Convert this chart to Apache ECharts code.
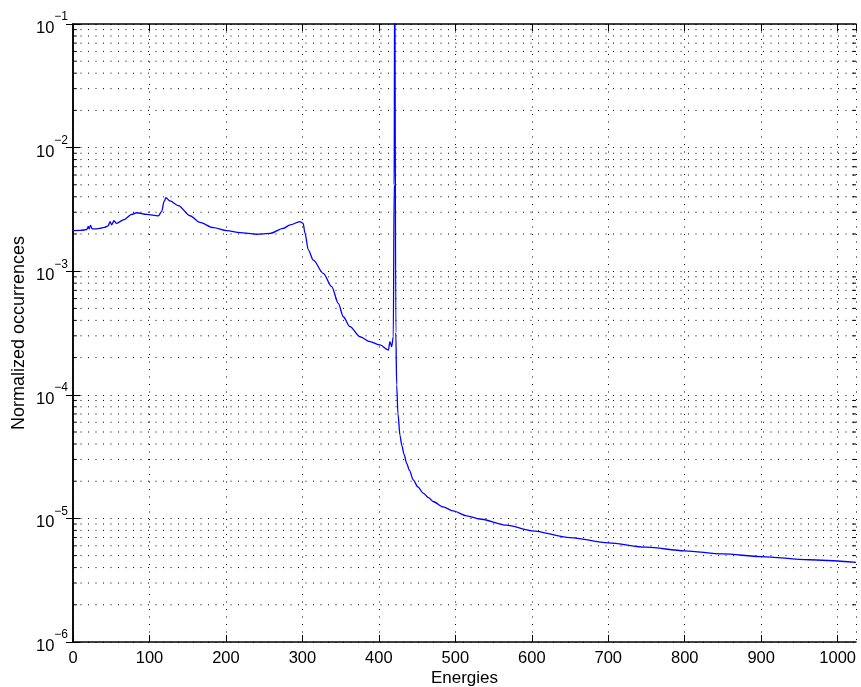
<!DOCTYPE html>
<html>
<head>
<meta charset="utf-8">
<script src="https://cdn.jsdelivr.net/npm/echarts@6/dist/echarts.min.js"></script>
<style>
html, body { margin: 0; padding: 0; background: #fff; }
#chart { width: 861px; height: 687px; }
</style>
</head>
<body>
<div id="chart"></div>
<script>
var energies = [0, 10, 18, 20, 21, 23, 25, 30, 35, 41, 46, 48.4, 50.6, 53.6, 57, 65.8, 76.8, 83.3,
  96.4, 111.6, 116, 119, 121.6, 126.8, 137.7, 153, 166, 183.5, 201, 218.4, 240, 257.6, 275,
  284, 296.8, 301, 303.4, 307.7, 314.3, 327.3, 338.3, 347, 353.5, 362.2, 375.3, 388.4, 401.5,
  412.4, 414.5, 416.7, 418.9, 420, 420.8, 421.6, 422.2, 423.3, 425, 427.6, 430, 433, 436.4,
  440, 445, 451, 458, 465, 471, 484, 497, 515, 532, 567, 600, 650, 700, 750, 800, 850, 900,
  962, 1024];
var occurrences = [2.13e-3, 2.14e-3, 2.17e-3, 2.3e-3, 2.2e-3, 2.35e-3, 2.2e-3, 2.2e-3, 2.22e-3,
  2.26e-3, 2.33e-3, 2.52e-3, 2.37e-3, 2.56e-3, 2.44e-3, 2.6e-3, 2.88e-3, 2.97e-3,
  2.88e-3, 2.8e-3, 3.05e-3, 3.65e-3, 3.93e-3, 3.7e-3, 3.39e-3, 2.81e-3, 2.48e-3, 2.25e-3,
  2.13e-3, 2.05e-3, 1.99e-3, 2.02e-3, 2.22e-3,
  2.37e-3, 2.52e-3, 2.44e-3, 2.03e-3, 1.49e-3, 1.23e-3, 9.6e-4, 7.5e-4, 5.5e-4, 4.28e-4,
  3.56e-4, 2.95e-4, 2.69e-4, 2.53e-4,
  2.30e-4, 2.69e-4, 2.45e-4, 2.95e-4, 5e-3, 0.5, 0.5, 3.2e-4, 1.2e-4, 7e-5, 4.7e-5, 3.9e-5,
  3.3e-5, 2.79e-5,
  2.45e-5, 2.05e-5, 1.8e-5, 1.6e-5, 1.47e-5, 1.37e-5, 1.24e-5, 1.15e-5, 1.05e-5, 9.89e-6,
  8.81e-6, 7.94e-6, 7.0e-6, 6.34e-6, 5.85e-6, 5.47e-6, 5.16e-6, 4.91e-6,
  4.63e-6, 4.4e-6];

var xTicks = [0, 100, 200, 300, 400, 500, 600, 700, 800, 900, 1000];
var yDecades = [-6, -5, -4, -3, -2, -1];
var xMin = 0, xMax = 1024;
var minorTickLen = 5;

var myChart = echarts.init(document.getElementById('chart'));

// minor log grid lines (2..9 in each decade) and their small ticks on both sides
var minorGrid = [];
var minorTicks = [];
for (var k = -6; k < -1; k++) {
  for (var m = 2; m <= 9; m++) {
    var v = m * Math.pow(10, k);
    minorGrid.push([xMin, v], [xMax, v], ['-', '-']);
    minorTicks.push([xMin, v], [xMin + minorTickLen, v], ['-', '-']);
    minorTicks.push([xMax - minorTickLen, v], [xMax, v], ['-', '-']);
  }
}

var dotted = { color: '#000', width: 1, type: [1, 6.5] };
var font = 'Liberation Sans, Arial, Helvetica, sans-serif';

myChart.setOption({
  animation: false,
  backgroundColor: '#fff',
  grid: { left: 73, right: 5, top: 24, bottom: 45, containLabel: false, outerBoundsMode: 'none' },
  xAxis: [{
    type: 'value',
    min: xMin,
    max: xMax,
    interval: 100,
    name: 'Energies',
    nameLocation: 'middle',
    nameGap: 28,
    nameMoveOverlap: false,
    nameTextStyle: { fontFamily: font, fontSize: 17, color: '#000' },
    axisLine: { show: true, lineStyle: { color: '#000', width: 1.5 } },
    axisTick: { show: true, inside: true, length: 7, lineStyle: { color: '#000' } },
    axisLabel: {
      fontFamily: font, fontSize: 16.5, color: '#000', margin: 8, showMaxLabel: false,
      formatter: function (v) { return xTicks.indexOf(v) >= 0 ? String(v) : ''; }
    },
    splitLine: { show: true, lineStyle: dotted }
  }, {
    type: 'value',
    position: 'top',
    min: xMin,
    max: xMax,
    interval: 100,
    axisLine: { show: true, lineStyle: { color: '#000', width: 1.5 } },
    axisTick: { show: true, inside: true, length: 7, lineStyle: { color: '#000' } },
    axisLabel: { show: false },
    splitLine: { show: false }
  }],
  yAxis: [{
    type: 'log',
    logBase: 10,
    min: 1e-6,
    max: 1e-1,
    name: 'Normalized occurrences',
    nameLocation: 'middle',
    nameGap: 45,
    nameMoveOverlap: false,
    nameTextStyle: { fontFamily: font, fontSize: 18, color: '#000' },
    axisLine: { show: true, lineStyle: { color: '#000', width: 1.5 } },
    axisTick: { show: true, inside: true, length: 7, lineStyle: { color: '#000' } },
    axisLabel: {
      margin: 5,
      formatter: function (v) {
        var e = Math.round(Math.log(v) / Math.LN10);
        if (yDecades.indexOf(e) < 0) return '';
        return '{b|10}{s|\u2212' + Math.abs(e) + '}';
      },
      rich: {
        b: { fontFamily: font, fontSize: 16.5, color: '#000', lineHeight: 26, verticalAlign: 'bottom' },
        s: { fontFamily: font, fontSize: 12, color: '#000', lineHeight: 26, verticalAlign: 'top' }
      }
    },
    splitLine: { show: true, lineStyle: dotted }
  }, {
    type: 'log',
    logBase: 10,
    min: 1e-6,
    max: 1e-1,
    position: 'right',
    axisLine: { show: true, lineStyle: { color: '#000', width: 1.5 } },
    axisTick: { show: true, inside: true, length: 7, lineStyle: { color: '#000' } },
    axisLabel: { show: false },
    splitLine: { show: false }
  }],
  series: [{
    name: 'minorGrid',
    type: 'line',
    silent: true,
    symbol: 'none',
    connectNulls: false,
    lineStyle: dotted,
    z: 1,
    data: minorGrid
  }, {
    name: 'minorTicks',
    type: 'line',
    silent: true,
    symbol: 'none',
    connectNulls: false,
    lineStyle: { color: '#000', width: 1 },
    z: 1,
    data: minorTicks
  }, {
    name: 'occurrences',
    type: 'line',
    showSymbol: false,
    symbol: 'none',
    smooth: 0.3,
    smoothMonotone: 'x',
    clip: true,
    lineStyle: { color: '#0000ff', width: 1.3 },
    z: 3,
    data: energies.map(function (e, i) { return [e, occurrences[i]]; })
  }]
});
</script>
</body>
</html>
